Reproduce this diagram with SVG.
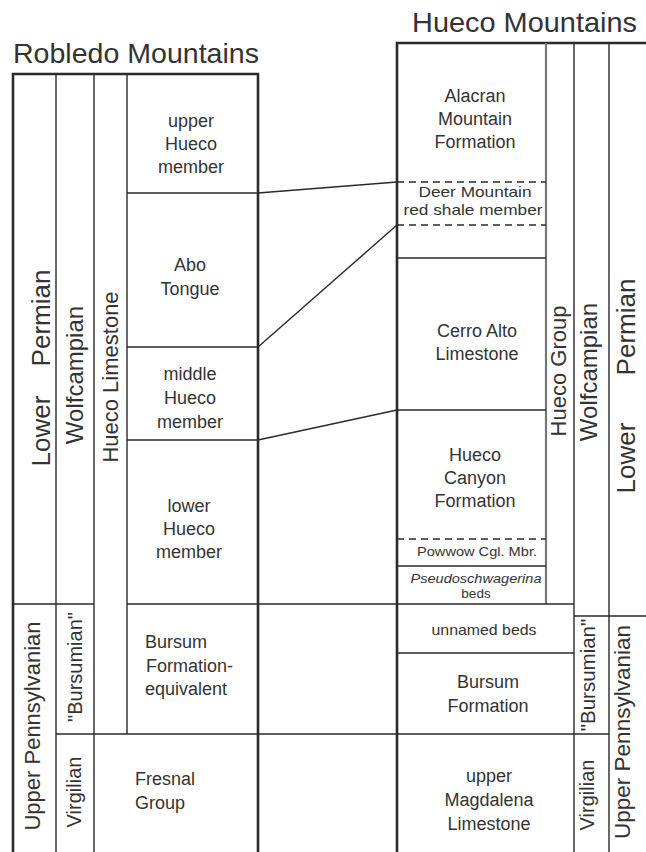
<svg xmlns="http://www.w3.org/2000/svg" width="646" height="852" viewBox="0 0 646 852">
<style>
text{font-family:"Liberation Sans",Arial,sans-serif;fill:#333}
.t{font-size:28px}
.u{font-size:18px;text-anchor:middle}
.ul{font-size:18px}
.s{font-size:15px;text-anchor:middle}
.xs{font-size:13.5px;text-anchor:middle}
.r{text-anchor:middle}
.ln{stroke:#2a2a2a;stroke-width:1.4;fill:none}
.bd{stroke:#2a2a2a;stroke-width:2.6;fill:none}
.gr{stroke:#777;stroke-width:2.2;fill:none}
.ds{stroke:#2a2a2a;stroke-width:1.4;fill:none;stroke-dasharray:7 5}
</style>
<rect width="646" height="852" fill="#fff"/>

<g id="titles">
<text class="t" x="13" y="63" textLength="246" lengthAdjust="spacingAndGlyphs">Robledo Mountains</text>
<text class="t" x="412" y="32" textLength="225" lengthAdjust="spacingAndGlyphs">Hueco Mountains</text>
</g>

<g id="robledo-frame">
<path class="bd" d="M13,852 V74 H258 V852"/>
<path class="ln" d="M56,74 V852 M94,74 V852 M127,74 V734"/>
<path class="ln" d="M127,193 H258 M127,347 H258 M127,440 H258 M13,604 H94 M127,604 H258 M56,734 H258"/>
</g>

<g id="hueco-frame">
<path class="bd" d="M397,852 V43 H646"/>
<path class="gr" d="M546,43 V604"/>
<path class="ln" d="M574,43 V852 M609,43 V852"/>
<path class="ln" d="M397,258 H546 M397,410 H546 M397,566 H546 M397,604 H574 M574,616 H646 M397,653 H574 M397,734 H609"/>
<path class="ds" d="M397,182 H546 M397,225 H546 M397,539 H546"/>
</g>

<g id="connectors">
<path class="ln" d="M258,193 L397,182 M258,347 L397,225 M258,440 L397,410 M258,604 H397 M258,734 H397"/>
</g>

<g id="robledo-columns">
<text font-size="26" class="r" transform="translate(50,368) rotate(-90)">Lower <tspan dx="22">Permian</tspan></text>
<text font-size="24" class="r" transform="translate(83,375) rotate(-90)">Wolfcampian</text>
<text font-size="22" class="r" transform="translate(118,377) rotate(-90)">Hueco Limestone</text>
<text font-size="22" class="r" transform="translate(40,726) rotate(-90)">Upper Pennsylvanian</text>
<text font-size="20" class="r" transform="translate(82,667) rotate(-90)">"Bursumian"</text>
<text font-size="20" class="r" transform="translate(81,792) rotate(-90)">Virgilian</text>
</g>

<g id="robledo-upper-hueco"><text class="u" x="191" y="127">upper</text><text class="u" x="191" y="150">Hueco</text><text class="u" x="191" y="173">member</text></g>
<g id="robledo-abo"><text class="u" x="190" y="271">Abo</text><text class="u" x="190" y="295">Tongue</text></g>
<g id="robledo-middle-hueco"><text class="u" x="190" y="380">middle</text><text class="u" x="190" y="404">Hueco</text><text class="u" x="190" y="428">member</text></g>
<g id="robledo-lower-hueco"><text class="u" x="189" y="512">lower</text><text class="u" x="189" y="535">Hueco</text><text class="u" x="189" y="558">member</text></g>
<g id="robledo-bursum"><text class="ul" x="145" y="648">Bursum</text><text class="ul" x="146" y="672">Formation-</text><text class="ul" x="145" y="695">equivalent</text></g>
<g id="robledo-fresnal"><text class="ul" x="135" y="785">Fresnal</text><text class="ul" x="135" y="809">Group</text></g>

<g id="hueco-columns">
<text font-size="22" class="r" transform="translate(566,371) rotate(-90)">Hueco Group</text>
<text font-size="24" class="r" transform="translate(597,372) rotate(-90)">Wolfcampian</text>
<text font-size="26" class="r" transform="translate(635,386) rotate(-90)">Lower <tspan dx="40">Permian</tspan></text>
<text font-size="20.5" class="r" transform="translate(595,675) rotate(-90)">"Bursumian"</text>
<text font-size="20" class="r" transform="translate(594,795) rotate(-90)">Virgilian</text>
<text font-size="22.5" class="r" transform="translate(630,732) rotate(-90)">Upper Pennsylvanian</text>
</g>

<g id="hueco-alacran"><text class="u" x="475" y="102">Alacran</text><text class="u" x="475" y="125">Mountain</text><text class="u" x="475" y="148">Formation</text></g>
<g id="hueco-deer"><text class="s" x="475" y="197" textLength="113" lengthAdjust="spacingAndGlyphs">Deer Mountain</text><text class="s" x="473" y="215" textLength="139" lengthAdjust="spacingAndGlyphs">red shale member</text></g>
<g id="hueco-cerro"><text class="u" x="477" y="337">Cerro Alto</text><text class="u" x="477" y="360">Limestone</text></g>
<g id="hueco-canyon"><text class="u" x="475" y="461">Hueco</text><text class="u" x="475" y="484">Canyon</text><text class="u" x="475" y="507">Formation</text></g>
<g id="hueco-powwow"><text class="xs" x="477" y="556" textLength="120" lengthAdjust="spacingAndGlyphs">Powwow Cgl. Mbr.</text></g>
<g id="hueco-pseudo"><text class="xs" x="476" y="583" font-style="italic" textLength="131" lengthAdjust="spacingAndGlyphs">Pseudoschwagerina</text><text class="xs" x="476" y="598" font-size="13">beds</text></g>
<g id="hueco-unnamed"><text class="s" x="484" y="635" textLength="105" lengthAdjust="spacingAndGlyphs">unnamed beds</text></g>
<g id="hueco-bursum"><text class="u" x="488" y="688">Bursum</text><text class="u" x="488" y="712">Formation</text></g>
<g id="hueco-magdalena"><text class="u" x="489" y="782">upper</text><text class="u" x="489" y="806">Magdalena</text><text class="u" x="489" y="830">Limestone</text></g>
</svg>
